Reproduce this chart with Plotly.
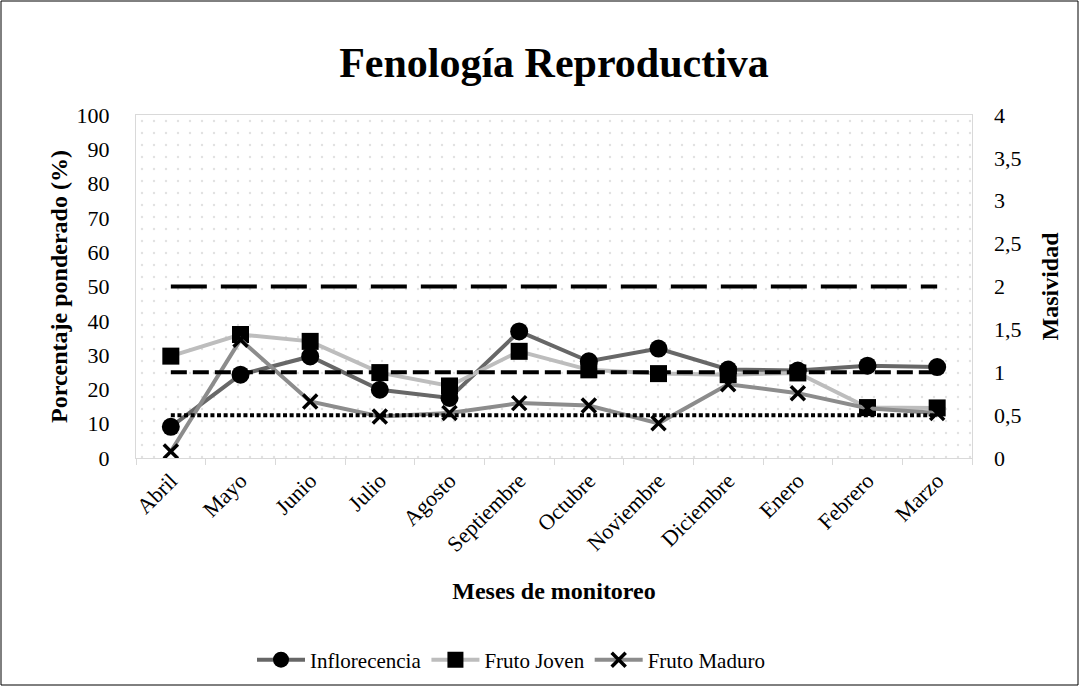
import plotly.graph_objects as go

# ---------------- data ----------------
months = ["Abril", "Mayo", "Junio", "Julio", "Agosto", "Septiembre",
          "Octubre", "Noviembre", "Diciembre", "Enero", "Febrero", "Marzo"]
inflorecencia = [9.1, 24.3, 29.6, 19.9, 17.5, 36.9, 28.2, 31.9, 25.8, 25.5, 26.9, 26.5]
fruto_joven = [29.7, 36.0, 34.0, 24.9, 21.0, 31.1, 25.7, 24.6, 24.3, 24.8, 14.7, 14.6]
fruto_maduro = [1.9, 34.5, 16.5, 12.1, 13.1, 16.0, 15.3, 10.1, 21.5, 18.9, 14.5, 13.1]
masividad_alta = [2] * 12
masividad_media = [1] * 12
masividad_baja = [0.5] * 12

y_max = 100
y2_max = 4

FONT = "Liberation Serif, Times New Roman, serif"
W, H = 1080, 687
L, R, T, B = 136, 108, 115, 229
PW, PH = W - L - R, H - T - B

fig = go.Figure()

# dotted plot-area background (pattern-filled bars spanning every category)
fig.add_trace(go.Bar(
    x=months, y=[y_max] * len(months), width=1,
    marker=dict(color="white", line=dict(width=0),
                pattern=dict(shape=".", fgcolor="#c4c4c4", bgcolor="white",
                             size=12, solidity=0.03)),
    hoverinfo="skip", showlegend=False,
))

fig.add_trace(go.Scatter(
    x=months, y=inflorecencia, name="Inflorecencia", mode="lines+markers",
    line=dict(color="#676767", width=4),
    marker=dict(symbol="circle", size=18, color="black"),
))
fig.add_trace(go.Scatter(
    x=months, y=fruto_joven, name="Fruto Joven", mode="lines+markers",
    line=dict(color="#bdbdbd", width=4),
    marker=dict(symbol="square", size=17, color="black"),
))
fig.add_trace(go.Scatter(
    x=months, y=fruto_maduro, name="Fruto Maduro", mode="lines+markers",
    line=dict(color="#8c8c8c", width=4),
    marker=dict(symbol="x-thin", size=14, color="black",
                line=dict(width=3.5, color="black")),
))

# masividad reference lines (secondary axis)
fig.add_trace(go.Scatter(
    x=months, y=masividad_alta, name="Alta", yaxis="y2", mode="lines",
    line=dict(color="black", width=4, dash="36px,14px"), showlegend=False,
))
fig.add_trace(go.Scatter(
    x=months, y=masividad_media, name="Media", yaxis="y2", mode="lines",
    line=dict(color="black", width=4, dash="16px,6px"), showlegend=False,
))
fig.add_trace(go.Scatter(
    x=months, y=masividad_baja, name="Baja", yaxis="y2", mode="lines",
    line=dict(color="black", width=4, dash="4px,2.6px"), showlegend=False,
))

axis_gray = "#d9d9d9"
tickfont = dict(family=FONT, size=22, color="black")
titlefont = dict(family=FONT, size=24, color="black", weight="bold")

fig.update_layout(
    width=W, height=H,
    margin=dict(l=L, r=R, t=T, b=B, autoexpand=False),
    paper_bgcolor="white", plot_bgcolor="white",
    separators=",.",
    bargap=0,
    font=dict(family=FONT, color="black"),
    title=dict(text="Fenología Reproductiva", x=0.5, xref="paper",
               y=1 - 62 / H, yref="container", yanchor="middle", xanchor="center",
               font=dict(family=FONT, size=42, color="black", weight="bold")),
    xaxis=dict(
        type="category", categoryorder="array", categoryarray=months,
        range=[-0.5, len(months) - 0.5],
        tickson="boundaries", ticks="outside", ticklen=6, tickcolor=axis_gray,
        tickwidth=1.3, tickangle=-45, tickfont=tickfont,
        showline=True, linecolor=axis_gray, linewidth=1.3, mirror=True,
        showgrid=False, zeroline=False,
        title=dict(text="Meses de monitoreo", font=titlefont, standoff=26),
    ),
    yaxis=dict(
        range=[0, y_max], dtick=10, tickfont=tickfont, ticks="",
        ticklabelstandoff=21,
        showline=True, linecolor=axis_gray, linewidth=1.3, mirror=True,
        showgrid=False, zeroline=False,
        title=dict(text="Porcentaje ponderado (%)", font=titlefont, standoff=2),
    ),
    yaxis2=dict(
        range=[0, y2_max], dtick=0.5, overlaying="y", side="right",
        tickfont=tickfont, ticks="", ticklabelstandoff=21,
        showline=False, showgrid=False, zeroline=False,
        title=dict(text="Masividad", font=titlefont, standoff=20),
    ),
    legend=dict(orientation="h", x=(511 - L) / PW, xanchor="center",
                y=(458 - 660) / PH, yanchor="middle",
                itemwidth=48, tracegroupgap=0,
                font=dict(family=FONT, size=21, color="black"),
                bgcolor="rgba(0,0,0,0)"),
    showlegend=True,
)

# outer chart border
fig.add_shape(type="rect", xref="paper", yref="paper",
              x0=(1 - L) / PW, x1=(W - 2 - L) / PW,
              y0=(PH - (H - 2 - T)) / PH, y1=(PH + T - 1) / PH,
              line=dict(color="black", width=1), fillcolor="rgba(0,0,0,0)",
              layer="above")

fig.write_html("out.html",
               config={"displayModeBar": False},
               post_script="document.body.style.margin='0';"
                           "document.body.style.overflow='hidden';")
